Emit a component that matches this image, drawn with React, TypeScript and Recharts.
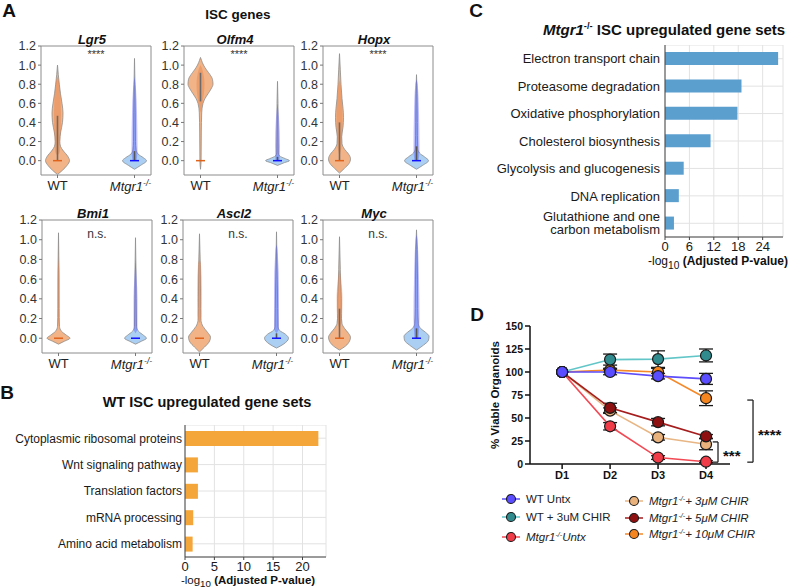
import React from "react";
import {
  ComposedChart, Area, Line, XAxis, YAxis, ReferenceArea,
  BarChart, Bar, CartesianGrid, LineChart, ErrorBar, ReferenceLine,
} from "recharts";

const FONT = "'Liberation Sans', Arial, Helvetica, sans-serif";

// ---------- panel A: violin half-widths (box width = 110 units) ----------
type Pt = { y: number; w: number };

const lgr5WT: Pt[] = [
  { y: -0.145, w: 0 }, { y: -0.1, w: 5 }, { y: -0.05, w: 9.5 }, { y: 0, w: 12 }, { y: 0.05, w: 10 },
  { y: 0.1, w: 6 }, { y: 0.15, w: 3 }, { y: 0.2, w: 2.2 }, { y: 0.3, w: 3.2 }, { y: 0.4, w: 5 },
  { y: 0.5, w: 5.5 }, { y: 0.6, w: 4.5 }, { y: 0.7, w: 3 }, { y: 0.8, w: 1.8 }, { y: 0.9, w: 0.8 }, { y: 1.0, w: 0 },
];
const lgr5KO: Pt[] = [
  { y: -0.09, w: 0 }, { y: -0.05, w: 6 }, { y: 0, w: 12 }, { y: 0.03, w: 9 }, { y: 0.07, w: 3.5 },
  { y: 0.12, w: 1.5 }, { y: 0.2, w: 1 }, { y: 0.5, w: 0.8 }, { y: 0.8, w: 0.5 }, { y: 1.07, w: 0 },
];
const lgr5WTDots: Pt[] = [{ y: 0.05, w: 0 }, { y: 0.1, w: 2.5 }, { y: 0.5, w: 3.5 }, { y: 0.8, w: 2 }, { y: 0.88, w: 0 }];
const lgr5KODots: Pt[] = [{ y: 0, w: 2 }, { y: 0.1, w: 3 }, { y: 0.5, w: 2.5 }, { y: 0.75, w: 1.5 }, { y: 0.88, w: 0 }];

const olfm4WT: Pt[] = [
  { y: -0.09, w: 0 }, { y: 0, w: 0.6 }, { y: 0.3, w: 0.8 }, { y: 0.5, w: 1.2 }, { y: 0.6, w: 2.5 },
  { y: 0.65, w: 4.5 }, { y: 0.7, w: 7.5 }, { y: 0.75, w: 10.5 }, { y: 0.8, w: 12.5 }, { y: 0.85, w: 12 },
  { y: 0.9, w: 9.5 }, { y: 0.95, w: 6 }, { y: 1.0, w: 3 }, { y: 1.05, w: 1 }, { y: 1.08, w: 0 },
];
const olfm4KO: Pt[] = [
  { y: -0.05, w: 0 }, { y: -0.02, w: 7 }, { y: 0, w: 12 }, { y: 0.02, w: 8 }, { y: 0.05, w: 2 },
  { y: 0.08, w: 0.8 }, { y: 0.3, w: 0.6 }, { y: 0.6, w: 0.5 }, { y: 0.83, w: 0 },
];
const olfm4WTDots: Pt[] = [{ y: 0.5, w: 0 }, { y: 0.6, w: 2 }, { y: 0.8, w: 4 }, { y: 0.95, w: 2 }, { y: 1.0, w: 0 }];
const olfm4KODots: Pt[] = [{ y: 0, w: 2 }, { y: 0.15, w: 2.5 }, { y: 0.45, w: 1.5 }, { y: 0.6, w: 0 }];

const hopxWT: Pt[] = [
  { y: -0.13, w: 0 }, { y: -0.08, w: 5 }, { y: -0.03, w: 9.5 }, { y: 0.02, w: 11 }, { y: 0.07, w: 9 },
  { y: 0.12, w: 5 }, { y: 0.18, w: 2.5 }, { y: 0.25, w: 2.2 }, { y: 0.35, w: 3.5 }, { y: 0.45, w: 4 },
  { y: 0.55, w: 3.5 }, { y: 0.65, w: 2.5 }, { y: 0.8, w: 1.5 }, { y: 0.95, w: 0.8 }, { y: 1.12, w: 0 },
];
const hopxKO: Pt[] = [
  { y: -0.09, w: 0 }, { y: -0.05, w: 6 }, { y: 0, w: 12 }, { y: 0.04, w: 8 }, { y: 0.08, w: 3 },
  { y: 0.13, w: 1.2 }, { y: 0.4, w: 0.8 }, { y: 0.7, w: 0.6 }, { y: 0.9, w: 0 },
];
const hopxWTDots: Pt[] = [{ y: 0.05, w: 0 }, { y: 0.15, w: 2 }, { y: 0.45, w: 3 }, { y: 0.75, w: 1.5 }, { y: 0.85, w: 0 }];
const hopxKODots: Pt[] = [{ y: 0, w: 2 }, { y: 0.1, w: 3 }, { y: 0.5, w: 2.5 }, { y: 0.8, w: 1.2 }, { y: 0.85, w: 0 }];

const bmi1WT: Pt[] = [
  { y: -0.06, w: 0 }, { y: -0.03, w: 6 }, { y: 0, w: 11.5 }, { y: 0.03, w: 8 }, { y: 0.07, w: 3 },
  { y: 0.12, w: 1 }, { y: 0.3, w: 0.6 }, { y: 0.7, w: 0.5 }, { y: 1.07, w: 0 },
];
const bmi1KO: Pt[] = [
  { y: -0.06, w: 0 }, { y: -0.03, w: 6 }, { y: 0, w: 11 }, { y: 0.03, w: 8 }, { y: 0.07, w: 3 },
  { y: 0.12, w: 1 }, { y: 0.4, w: 0.7 }, { y: 0.7, w: 0.5 }, { y: 1.02, w: 0 },
];
const bmi1WTDots: Pt[] = [{ y: 0.1, w: 0 }, { y: 0.3, w: 1 }, { y: 0.6, w: 1 }, { y: 0.8, w: 0 }];
const bmi1KODots: Pt[] = [{ y: 0.05, w: 0 }, { y: 0.1, w: 2 }, { y: 0.4, w: 2 }, { y: 0.6, w: 1.2 }, { y: 0.8, w: 0 }];

const ascl2WT: Pt[] = [
  { y: -0.14, w: 0 }, { y: -0.09, w: 5 }, { y: -0.04, w: 9.5 }, { y: 0.01, w: 11 }, { y: 0.06, w: 8 },
  { y: 0.12, w: 3.5 }, { y: 0.18, w: 1.5 }, { y: 0.3, w: 1.2 }, { y: 0.5, w: 1 }, { y: 0.75, w: 0.8 }, { y: 1.06, w: 0 },
];
const ascl2KO: Pt[] = [
  { y: -0.1, w: 0 }, { y: -0.06, w: 7 }, { y: 0, w: 12 }, { y: 0.04, w: 9 }, { y: 0.08, w: 3 },
  { y: 0.12, w: 1.5 }, { y: 0.3, w: 1.2 }, { y: 0.6, w: 0.8 }, { y: 1.08, w: 0 },
];
const ascl2WTDots: Pt[] = [{ y: 0.15, w: 0 }, { y: 0.25, w: 2 }, { y: 0.5, w: 2.5 }, { y: 0.75, w: 1.5 }, { y: 0.8, w: 0 }];
const ascl2KODots: Pt[] = [{ y: 0.05, w: 0 }, { y: 0.1, w: 2.5 }, { y: 0.5, w: 2.5 }, { y: 0.9, w: 1 }, { y: 0.95, w: 0 }];

const mycWT: Pt[] = [
  { y: -0.12, w: 0 }, { y: -0.08, w: 6 }, { y: -0.03, w: 10 }, { y: 0.01, w: 11 }, { y: 0.05, w: 9 },
  { y: 0.1, w: 5 }, { y: 0.15, w: 2.5 }, { y: 0.25, w: 1.8 }, { y: 0.4, w: 1.8 }, { y: 0.55, w: 1.2 },
  { y: 0.7, w: 0.8 }, { y: 1.03, w: 0 },
];
const mycKO: Pt[] = [
  { y: -0.12, w: 0 }, { y: -0.07, w: 7 }, { y: -0.02, w: 12 }, { y: 0.02, w: 12.5 }, { y: 0.06, w: 9 },
  { y: 0.1, w: 4 }, { y: 0.15, w: 1.8 }, { y: 0.3, w: 1.2 }, { y: 0.6, w: 1 }, { y: 0.9, w: 0.7 }, { y: 1.1, w: 0 },
];
const mycWTDots: Pt[] = [{ y: 0.1, w: 0 }, { y: 0.2, w: 2.5 }, { y: 0.4, w: 3 }, { y: 0.6, w: 1.5 }, { y: 0.7, w: 0 }];
const mycKODots: Pt[] = [{ y: 0, w: 2 }, { y: 0.2, w: 3 }, { y: 0.6, w: 2.5 }, { y: 1.0, w: 1 }, { y: 1.05, w: 0 }];

const VIOLIN_TICKS = [0, 0.2, 0.4, 0.6, 0.8, 1.0, 1.2];
const GROUPS = ["WT", "Mtgr1"];

const genes = [
  { name: "Lgr5", sig: "****", wt: lgr5WT, ko: lgr5KO, wtDots: lgr5WTDots, koDots: lgr5KODots, wtSpine: [0, 0.47], koSpine: [0, 0.1] },
  { name: "Olfm4", sig: "****", wt: olfm4WT, ko: olfm4KO, wtDots: olfm4WTDots, koDots: olfm4KODots, wtSpine: [0.62, 0.92], koSpine: [0, 0.04] },
  { name: "Hopx", sig: "****", wt: hopxWT, ko: hopxKO, wtDots: hopxWTDots, koDots: hopxKODots, wtSpine: [0, 0.4], koSpine: [0, 0.15] },
  { name: "Bmi1", sig: "n.s.", wt: bmi1WT, ko: bmi1KO, wtDots: bmi1WTDots, koDots: bmi1KODots, wtSpine: null, koSpine: null },
  { name: "Ascl2", sig: "n.s.", wt: ascl2WT, ko: ascl2KO, wtDots: ascl2WTDots, koDots: ascl2KODots, wtSpine: null, koSpine: [0, 0.05] },
  { name: "Myc", sig: "n.s.", wt: mycWT, ko: mycKO, wtDots: mycWTDots, koDots: mycKODots, wtSpine: [0, 0.3], koSpine: [0, 0.1] },
];

// ---------- panel B ----------
const bCategories = ["Cytoplasmic ribosomal proteins", "Wnt signaling pathway", "Translation factors", "mRNA processing", "Amino acid metabolism"];
const bValues = [22.7, 2.2, 2.2, 1.4, 1.3];
const bTicks = [0, 5, 10, 15, 20];

// ---------- panel C ----------
const cCategories = [
  "Electron transport chain", "Proteasome degradation", "Oxidative phosphorylation", "Cholesterol biosynthesis",
  "Glycolysis and glucogenesis", "DNA replication", "Glutathione and one carbon metabolism",
];
const cValues = [27.8, 18.8, 17.8, 11.2, 4.6, 3.4, 2.2];
const cTicks = [0, 6, 12, 18, 24];

// ---------- panel D ----------
const days = [1, 2, 3, 4];
const wtUntx = [100, 100, 95.5, 92.5];
const wtUntxErr = [0, 3, 3, 6];
const wtChir = [100, 113.5, 114, 118];
const wtChirErr = [0, 6, 9, 7];
const koUntx = [100, 41, 7, 2.5];
const koUntxErr = [0, 4, 2, 1];
const ko3 = [100, 58, 29, 21.5];
const ko3Err = [0, 3, 3, 6];
const ko5 = [100, 61, 45.5, 30];
const ko5Err = [0, 5, 4, 2];
const ko10 = [100, 102, 100, 71.5];
const ko10Err = [0, 2, 4, 8];
const dTicksY = [0, 25, 50, 75, 100, 125, 150];

const dData = days.map((d, i) => ({
  day: d,
  wtUntx: wtUntx[i], wtUntxErr: wtUntxErr[i],
  wtChir: wtChir[i], wtChirErr: wtChirErr[i],
  koUntx: koUntx[i], koUntxErr: koUntxErr[i],
  ko3: ko3[i], ko3Err: ko3Err[i],
  ko5: ko5[i], ko5Err: ko5Err[i],
  ko10: ko10[i], ko10Err: ko10Err[i],
}));

// drawing order (last on top)
const dSeries = [
  { key: "ko10", line: "#f5892a", fill: "#f5861f" },
  { key: "ko3", line: "#e8b684", fill: "#e9b27c" },
  { key: "ko5", line: "#a51d1d", fill: "#8e1010" },
  { key: "koUntx", line: "#f24a55", fill: "#f03b48" },
  { key: "wtChir", line: "#62c6c8", fill: "#2f8b8e" },
  { key: "wtUntx", line: "#5d4dfa", fill: "#5a4cff" },
];

const legendCol1 = [
  { key: "wtUntx", ko: false, text: "WT Untx" },
  { key: "wtChir", ko: false, text: "WT + 3uM CHIR" },
  { key: "koUntx", ko: true, text: "Untx" },
];
const legendCol2 = [
  { key: "ko3", ko: true, text: "+ 3μM CHIR" },
  { key: "ko5", ko: true, text: "+ 5μM CHIR" },
  { key: "ko10", ko: true, text: "+ 10μM CHIR" },
];

// ---------- helpers ----------
function Txt(props: any) {
  const { x, y, size, bold, italic, anchor = "middle", color = "#111", children } = props;
  const tx = anchor === "middle" ? "-50%" : anchor === "end" ? "-100%" : "0";
  return (
    <div style={{
      position: "absolute", left: x, top: y, transform: `translate(${tx}, -50%)`,
      fontSize: size, fontWeight: bold ? 700 : 400, fontStyle: italic ? "italic" : "normal",
      whiteSpace: "nowrap", lineHeight: 1, fontFamily: FONT, color,
    }}>{children}</div>
  );
}

const Sup = ({ children }: any) => (
  <span style={{ fontSize: "0.62em", verticalAlign: "0.55em", lineHeight: 0 }}>{children}</span>
);

const BOX_W = 110;
const WT_X = 16.5;
const KO_X = 93.5;
const Y_MIN = -0.15;
const Y_MAX = 1.2;

const GroupTick = (props: any) => {
  const { x, y, payload } = props;
  const label = payload.value === WT_X ? GROUPS[0] : GROUPS[1];
  if (label === "WT") {
    return <text x={x} y={y} dy="0.8em" textAnchor="middle" fontSize={13} fill="#222" fontFamily={FONT}>WT</text>;
  }
  return (
    <text x={x - 4} y={y} dy="0.85em" textAnchor="middle" fontSize={13} fill="#222" fontFamily={FONT} fontStyle="italic">
      {label}<tspan fontSize={8.5} dy={-5}>-/-</tspan>
    </text>
  );
};

function ViolinPanel(props: any) {
  const { g, left, top, boxH } = props;
  const yAxisW = 32;
  const mTop = 9;
  const w = yAxisW + BOX_W + 4;
  const h = mTop + boxH + 22;
  const band = (c: number) => (r: Pt) => [c - r.w, c + r.w];
  const seg = (c: number, s: number[]) => [{ y: s[0], x: c }, { y: s[1], x: c }];
  const med = (c: number) => [{ y: 0, x: c - 4.5 }, { y: 0, x: c + 4.5 }];
  const outline = "#8d8d8d";
  return (
    <>
      <div style={{ position: "absolute", left: left - yAxisW, top: top - mTop }}>
        <ComposedChart layout="vertical" width={w} height={h} margin={{ top: mTop, right: 4, bottom: 0, left: 0 }}>
          <XAxis type="number" domain={[0, BOX_W]} ticks={[WT_X, KO_X]} allowDataOverflow interval={0}
            axisLine={false} tickSize={3} tickLine={{ stroke: "#777" }} height={22} tick={<GroupTick />} />
          <YAxis type="number" dataKey="y" domain={[Y_MIN, Y_MAX]} ticks={VIOLIN_TICKS} allowDataOverflow interval={0}
            reversed width={yAxisW} axisLine={false} tickSize={3} tickLine={{ stroke: "#777" }}
            tickFormatter={(v: number) => v.toFixed(1)} tick={{ fontSize: 12.5, fill: "#333", fontFamily: FONT }} />
          <ReferenceArea x1={0} x2={BOX_W} y1={Y_MIN} y2={Y_MAX} fill="#fff" fillOpacity={0}
            stroke="#8c8c8c" strokeWidth={1} ifOverflow="visible" />
          <Area data={g.wt} dataKey={band(WT_X)} type="monotone" fill="#f2b487" fillOpacity={1}
            stroke={outline} strokeWidth={0.8} dot={false} activeDot={false} isAnimationActive={false} />
          <Area data={g.ko} dataKey={band(KO_X)} type="monotone" fill="#abcff3" fillOpacity={1}
            stroke={outline} strokeWidth={0.8} dot={false} activeDot={false} isAnimationActive={false} />
          <Area data={g.wtDots} dataKey={band(WT_X)} type="monotone" fill="#e2733a" fillOpacity={0.35}
            stroke="none" dot={false} activeDot={false} isAnimationActive={false} />
          <Area data={g.koDots} dataKey={band(KO_X)} type="monotone" fill="#3a3aff" fillOpacity={0.32}
            stroke="none" dot={false} activeDot={false} isAnimationActive={false} />
          {g.wtSpine && (
            <Line data={seg(WT_X, g.wtSpine)} dataKey="x" stroke="#6b6b6b" strokeWidth={1.6} dot={false}
              activeDot={false} isAnimationActive={false} />
          )}
          {g.koSpine && (
            <Line data={seg(KO_X, g.koSpine)} dataKey="x" stroke="#555" strokeWidth={1.6} dot={false}
              activeDot={false} isAnimationActive={false} />
          )}
          <Line data={med(WT_X)} dataKey="x" stroke="#e0631c" strokeWidth={1.5} dot={false} activeDot={false} isAnimationActive={false} />
          <Line data={med(KO_X)} dataKey="x" stroke="#1010ff" strokeWidth={1.5} dot={false} activeDot={false} isAnimationActive={false} />
        </ComposedChart>
      </div>
      <Txt x={left + BOX_W / 2 - 4} y={top - 7} size={13} bold italic>{g.name}</Txt>
      <Txt x={left + BOX_W / 2} y={top + (g.sig === "n.s." ? 14 : 8)} size={g.sig === "n.s." ? 12 : 11} color="#333">{g.sig}</Txt>
    </>
  );
}

function wrapLabel(s: string, max: number): string[] {
  if (s.length <= max) return [s];
  const words = s.split(" ");
  let best = 1;
  let bestDiff = Infinity;
  for (let i = 1; i < words.length; i++) {
    const a = words.slice(0, i).join(" ").length;
    const b = words.slice(i).join(" ").length;
    if (Math.abs(a - b) < bestDiff) { bestDiff = Math.abs(a - b); best = i; }
  }
  return [words.slice(0, best).join(" "), words.slice(best).join(" ")];
}

const CatTick = (props: any) => {
  const { x, y, payload, fontSize } = props;
  const lines = wrapLabel(payload.value, 30);
  return (
    <text x={x} y={y} textAnchor="end" fontSize={fontSize} fill="#1a1a1a" fontFamily={FONT}>
      {lines.map((l, i) => (
        <tspan key={i} x={x} dy={i === 0 ? (lines.length === 1 ? "0.36em" : "-0.2em") : "1.05em"}>{l}</tspan>
      ))}
    </text>
  );
};

function LegendRow(props: any) {
  const { item, x, y } = props;
  const s = dSeries.find((d) => d.key === item.key)!;
  return (
    <div style={{ position: "absolute", left: x, top: y, transform: "translateY(-50%)", display: "flex", alignItems: "center", fontFamily: FONT, fontSize: 11.5, color: "#222", whiteSpace: "nowrap" }}>
      <svg width={18} height={12} style={{ marginRight: 6 }}>
        <line x1={0} y1={6} x2={18} y2={6} stroke={s.line} strokeWidth={1.5} />
        <circle cx={9} cy={6} r={4.5} fill={s.fill} stroke="#1a1a1a" strokeWidth={1.1} />
      </svg>
      {item.ko ? (
        <span style={{ fontStyle: "italic" }}>Mtgr1<Sup>-/-</Sup>{item.text}</span>
      ) : (
        <span>{item.text}</span>
      )}
    </div>
  );
}

export default function App() {
  const bData = bCategories.map((name, i) => ({ name, value: bValues[i] }));
  const cData = cCategories.map((name, i) => ({ name, value: cValues[i] }));
  const rowTops = [46, 220];
  const rowHeights = [129, 133];
  const rowLefts = [[41, 184, 323], [42, 183, 323]];
  const axisStroke = "#444";

  return (
    <div style={{ position: "fixed", left: 0, top: 0, width: 800, height: 588, background: "#fff", overflow: "hidden", fontFamily: FONT }}>
      {/* panel letters */}
      <Txt x={9} y={10} size={19} bold>A</Txt>
      <Txt x={7} y={392} size={19} bold>B</Txt>
      <Txt x={476} y={10} size={19} bold>C</Txt>
      <Txt x={477} y={314} size={19} bold>D</Txt>

      {/* A */}
      <Txt x={238} y={15} size={13.5} bold>ISC genes</Txt>
      {genes.map((g, i) => {
        const row = i < 3 ? 0 : 1;
        return (
          <ViolinPanel key={g.name} g={g} left={rowLefts[row][i % 3]} top={rowTops[row]} boxH={rowHeights[row]} />
        );
      })}

      {/* B */}
      <Txt x={207} y={402} size={14.5} bold>WT ISC upregulated gene sets</Txt>
      <div style={{ position: "absolute", left: 2, top: 425 }}>
        <BarChart layout="vertical" width={328} height={149} data={bData} margin={{ top: 0, right: 4, bottom: 0, left: 0 }}>
          <CartesianGrid stroke="#e2e2e2" strokeWidth={1} />
          <XAxis type="number" domain={[0, 24]} ticks={bTicks} interval={0} allowDataOverflow height={17}
            axisLine={{ stroke: axisStroke }} tickLine={{ stroke: axisStroke }} tickSize={3}
            tick={{ fontSize: 13, fill: "#1a1a1a", fontFamily: FONT }} />
          <YAxis type="category" dataKey="name" width={183} interval={0} axisLine={{ stroke: axisStroke }}
            tickLine={false} tickSize={0} tickMargin={3} tick={<CatTick fontSize={12} />} />
          <Bar dataKey="value" fill="#f4a63b" barSize={15} isAnimationActive={false} />
        </BarChart>
      </div>
      <Txt x={248} y={582} size={11.5}>-log<sub style={{ fontSize: "0.85em" }}>10</sub> <b>(Adjusted P-value)</b></Txt>

      {/* C */}
      <Txt x={543} y={29} size={15} bold anchor="start"><i>Mtgr1</i><Sup>-/-</Sup> ISC upregulated gene sets</Txt>
      <div style={{ position: "absolute", left: 470, top: 45 }}>
        <BarChart layout="vertical" width={319} height={208} data={cData} margin={{ top: 0, right: 6, bottom: 0, left: 0 }}>
          <CartesianGrid stroke="#e2e2e2" strokeWidth={1} />
          <XAxis type="number" domain={[0, 29]} ticks={cTicks} interval={0} allowDataOverflow height={16}
            axisLine={{ stroke: axisStroke }} tickLine={{ stroke: axisStroke }} tickSize={3}
            tick={{ fontSize: 13, fill: "#1a1a1a", fontFamily: FONT }} />
          <YAxis type="category" dataKey="name" width={195} interval={0} axisLine={{ stroke: axisStroke }}
            tickLine={false} tickSize={0} tickMargin={5} tick={<CatTick fontSize={13} />} />
          <Bar dataKey="value" fill="#5b9fcf" barSize={13} isAnimationActive={false} />
        </BarChart>
      </div>
      <Txt x={718} y={263} size={12}>-log<sub style={{ fontSize: "0.85em" }}>10</sub> <b>(Adjusted P-value)</b></Txt>

      {/* D */}
      <div style={{ position: "absolute", left: 495, top: 395, transform: "translate(-50%, -50%) rotate(-90deg)", fontFamily: FONT, fontSize: 11.5, fontWeight: 700, whiteSpace: "nowrap", color: "#111" }}>
        % Viable Organoids
      </div>
      <div style={{ position: "absolute", left: 490, top: 316 }}>
        <LineChart width={310} height={178} data={dData} margin={{ top: 10, right: 70, bottom: 0, left: 0 }}>
          <XAxis type="number" dataKey="day" domain={[0.33, 4.5]} ticks={days} interval={0} allowDataOverflow height={30}
            axisLine={{ stroke: "#111", strokeWidth: 1.5 }} tickLine={{ stroke: "#111", strokeWidth: 1.5 }} tickSize={5}
            tickFormatter={(v: number) => `D${v}`} tick={{ fontSize: 11, fontWeight: 700, fill: "#111", fontFamily: FONT }} />
          <YAxis type="number" domain={[0, 150]} ticks={dTicksY} interval={0} width={40}
            axisLine={{ stroke: "#111", strokeWidth: 1.5 }} tickLine={{ stroke: "#111", strokeWidth: 1.5 }} tickSize={5}
            tick={{ fontSize: 10.5, fontWeight: 700, fill: "#111", fontFamily: FONT }} />
          {dSeries.map((s) => (
            <Line key={s.key} dataKey={s.key} type="linear" stroke={s.line} strokeWidth={1.6}
              dot={{ r: 5.5, fill: s.fill, stroke: "#1a1a1a", strokeWidth: 1.2 }} activeDot={false} isAnimationActive={false}>
              <ErrorBar dataKey={`${s.key}Err`} width={7} stroke="#1a1a1a" strokeWidth={1.3} direction="y" />
            </Line>
          ))}
          {/* **** bracket */}
          <ReferenceLine segment={[{ x: 4.86, y: 69.5 }, { x: 4.98, y: 69.5 }]} stroke="#222" strokeWidth={1.3} ifOverflow="visible" />
          <ReferenceLine segment={[{ x: 4.86, y: 2 }, { x: 4.98, y: 2 }]} stroke="#222" strokeWidth={1.3} ifOverflow="visible" />
          <ReferenceLine segment={[{ x: 4.98, y: 2 }, { x: 4.98, y: 69.5 }]} stroke="#222" strokeWidth={1.3} ifOverflow="visible"
            label={{ value: "****", position: "right", offset: 5, fontSize: 15, fontWeight: 700, fill: "#111", dy: 4 }} />
          {/* *** bracket */}
          <ReferenceLine segment={[{ x: 4.14, y: 24 }, { x: 4.25, y: 24 }]} stroke="#222" strokeWidth={1.3} ifOverflow="visible" />
          <ReferenceLine segment={[{ x: 4.14, y: 2 }, { x: 4.25, y: 2 }]} stroke="#222" strokeWidth={1.3} ifOverflow="visible" />
          <ReferenceLine segment={[{ x: 4.25, y: 2 }, { x: 4.25, y: 24 }]} stroke="#222" strokeWidth={1.3} ifOverflow="visible"
            label={{ value: "***", position: "right", offset: 5, fontSize: 15, fontWeight: 700, fill: "#111", dy: 4 }} />
        </LineChart>
      </div>
      {legendCol1.map((it, i) => (
        <LegendRow key={it.key} item={it} x={502} y={[499, 517, 537][i]} />
      ))}
      {legendCol2.map((it, i) => (
        <LegendRow key={it.key} item={it} x={625} y={[501, 518, 534][i]} />
      ))}
    </div>
  );
}
